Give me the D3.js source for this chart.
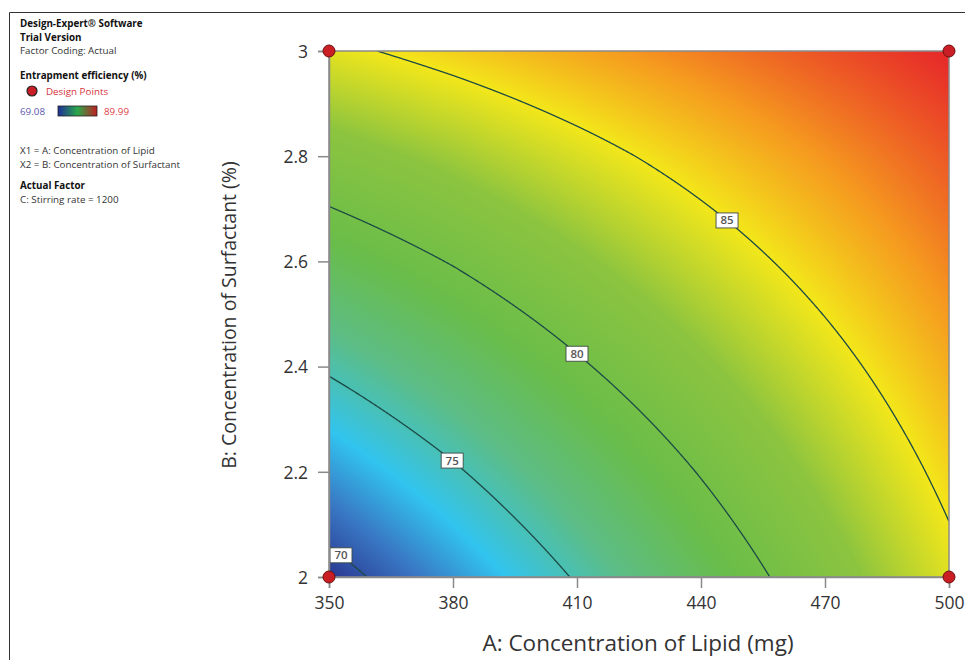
<!DOCTYPE html>
<html>
<head>
<meta charset="utf-8">
<script src="https://cdn.jsdelivr.net/npm/d3@7"></script>
<style>
  html, body { margin: 0; padding: 0; background: #fff; }
  svg { display: block; }
</style>
</head>
<body>
<svg id="chart" width="965" height="660"></svg>
<script>
// ---------------- DATA ----------------
const lipidTicks = [350, 380, 410, 440, 470, 500];          // A (mg)
const surfactantTicks = [2, 2.2, 2.4, 2.6, 2.8, 3];         // B (%)
// Entrapment efficiency (%) read at grid A x B (rows: B = 2 .. 3, cols: A = 350 .. 500)
const efficiencyGrid = [
  [69.08, 72.08, 75.18, 78.28, 81.38, 84.43],
  [72.18, 74.73, 77.42, 80.12, 82.82, 85.51],
  [75.28, 77.42, 79.72, 82.01, 84.30, 86.60],
  [78.38, 80.12, 82.01, 83.90, 85.79, 87.68],
  [81.48, 82.82, 84.30, 85.79, 87.28, 88.77],
  [84.58, 85.66, 86.75, 87.83, 88.92, 89.99]
];
const contourLevels = [70, 75, 80, 85];
const contourLabelLipid = [352.9, 379.8, 410, 446.3];
const designLipid = [350, 500, 350, 500];
const designSurfactant = [2, 2, 3, 3];
const effMin = 69.08, effMax = 89.99;

// ---------------- LAYOUT ----------------
const svg = d3.select("#chart");
const x0 = 329, x1 = 949, y0 = 51, y1 = 577;
const x = d3.scaleLinear().domain([350, 500]).range([x0, x1]);
const y = d3.scaleLinear().domain([2, 3]).range([y1, y0]);

const color = d3.scaleLinear()
  .domain([69.08, 71.3, 73.4, 76.3, 79.0, 82.3, 85, 87.2, 89.99])
  .range(["#2a3791", "#3978c4", "#31c4ef", "#5cbd86", "#69bd4a", "#8cc43f", "#f3e71a", "#f5981f", "#e6262a"])
  .interpolate(d3.interpolateRgb)
  .clamp(true);

// bilinear reading of the grid
function eff(a, b) {
  const fi = (a - lipidTicks[0]) / (lipidTicks[1] - lipidTicks[0]);
  const fj = (b - surfactantTicks[0]) / (surfactantTicks[1] - surfactantTicks[0]);
  const n = lipidTicks.length - 1, m = surfactantTicks.length - 1;
  const i = Math.max(0, Math.min(n - 1, Math.floor(fi)));
  const j = Math.max(0, Math.min(m - 1, Math.floor(fj)));
  const u = fi - i, v = fj - j;
  const g = efficiencyGrid;
  return g[j][i] * (1 - u) * (1 - v) + g[j][i + 1] * u * (1 - v) +
         g[j + 1][i] * (1 - u) * v + g[j + 1][i + 1] * u * v;
}

// ---------------- FRAME ----------------
svg.append("path").attr("d", "M9.5,660 L9.5,12.5 L965,12.5")
  .attr("fill", "none").attr("stroke", "#333").attr("stroke-width", 1);

// ---------------- RASTER ----------------
const W = x1 - x0, H = y1 - y0;
const canvas = document.createElement("canvas");
canvas.width = W; canvas.height = H;
const ctx = canvas.getContext("2d");
const img = ctx.createImageData(W, H);
for (let py = 0; py < H; py++) {
  const b = y.invert(y0 + py + 0.5);
  for (let px = 0; px < W; px++) {
    const a = x.invert(x0 + px + 0.5);
    const c = d3.rgb(color(eff(a, b)));
    const k = (py * W + px) * 4;
    img.data[k] = c.r; img.data[k + 1] = c.g; img.data[k + 2] = c.b; img.data[k + 3] = 255;
  }
}
ctx.putImageData(img, 0, 0);
svg.append("image").attr("x", x0).attr("y", y0).attr("width", W).attr("height", H)
  .attr("preserveAspectRatio", "none")
  .attr("href", canvas.toDataURL());

svg.append("clipPath").attr("id", "plotclip").append("rect")
  .attr("x", x0).attr("y", y0).attr("width", W).attr("height", H);

// ---------------- CONTOURS ----------------
function solveB(a, level) {
  let lo = 2, hi = 3;
  const flo = eff(a, lo), fhi = eff(a, hi);
  if (level < flo || level > fhi) return null;
  for (let k = 0; k < 40; k++) {
    const mid = (lo + hi) / 2;
    if (eff(a, mid) < level) lo = mid; else hi = mid;
  }
  return (lo + hi) / 2;
}
const line = d3.line().x(d => x(d[0])).y(d => y(d[1]));
const gC = svg.append("g").attr("clip-path", "url(#plotclip)");
contourLevels.forEach(level => {
  const pts = [];
  for (let a = 350; a <= 500.0001; a += 0.1) {
    const b = solveB(a, level);
    if (b !== null) pts.push([a, b]);
  }
  if (pts.length) {
    gC.append("path").attr("d", line(pts)).attr("fill", "none")
      .attr("stroke", "#1d4a45").attr("stroke-width", 1.3);
  }
});

// labels
const gL = svg.append("g");
contourLevels.forEach((level, i) => {
  const a = contourLabelLipid[i];
  const b = solveB(a, level);
  if (b === null) return;
  const cx = x(a), cy = y(b);
  const w = 22, h = 15;
  gL.append("rect").attr("x", cx - w / 2).attr("y", cy - h / 2).attr("width", w).attr("height", h)
    .attr("fill", "#fff").attr("stroke", "#3d4a45").attr("stroke-width", 0.9);
  gL.append("text").attr("x", cx).attr("y", cy + 4).attr("text-anchor", "middle")
    .attr("font-family", "Open Sans, sans-serif").attr("font-size", 11.5).attr("font-weight", 600)
    .attr("fill", "#555").text(level);
});

// ---------------- AXES ----------------
const xAxis = d3.axisBottom(x).tickValues(lipidTicks).tickSize(11).tickPadding(9).tickFormat(d3.format("d"));
const yAxis = d3.axisLeft(y).tickValues(surfactantTicks).tickSize(11).tickPadding(10).tickFormat(d => d3.format("")(d));
const gx = svg.append("g").attr("transform", `translate(0,${y1})`).call(xAxis);
const gy = svg.append("g").attr("transform", `translate(${x0},0)`).call(yAxis);
[gx, gy].forEach(g => {
  g.select(".domain").attr("stroke", "#8a8a8a").attr("stroke-width", 1.5);
  g.selectAll(".tick line").attr("stroke", "#8a8a8a").attr("stroke-width", 1.5);
  g.selectAll(".tick text").attr("font-family", "Open Sans, sans-serif").attr("font-size", 17.5).attr("fill", "#333");
});
gy.selectAll(".tick text").attr("dy", "0.36em");
svg.append("rect").attr("x", x0).attr("y", y0).attr("width", W).attr("height", H)
  .attr("fill", "none").attr("stroke", "#8a8a8a").attr("stroke-width", 1.5);

svg.append("text").attr("x", (x0 + x1) / 2 - 1).attr("y", 651).attr("text-anchor", "middle")
  .attr("font-family", "Open Sans, sans-serif").attr("font-size", 22.5).attr("fill", "#333")
  .text("A: Concentration of Lipid (mg)");
svg.append("text").attr("transform", `translate(236,${(y0 + y1) / 2 + 1}) rotate(-90)`)
  .attr("text-anchor", "middle")
  .attr("font-family", "Open Sans, sans-serif").attr("font-size", 19.5).attr("fill", "#333")
  .text("B: Concentration of Surfactant (%)");

// design points
svg.append("g").selectAll("circle").data(designLipid.map((a, i) => [a, designSurfactant[i]]))
  .join("circle").attr("cx", d => x(d[0])).attr("cy", d => y(d[1])).attr("r", 6)
  .attr("fill", "#c81e24").attr("stroke", "#6a1010").attr("stroke-width", 1);

// ---------------- LEGEND TEXT ----------------
const lg = svg.append("g").attr("font-family", "Open Sans, sans-serif").attr("font-size", 9.8);
const lx = 20;
lg.append("text").attr("x", lx).attr("y", 27).attr("font-weight", 700).attr("fill", "#111").text("Design-Expert® Software");
lg.append("text").attr("x", lx).attr("y", 40.5).attr("font-weight", 700).attr("fill", "#111").text("Trial Version");
lg.append("text").attr("x", lx).attr("y", 54).attr("fill", "#333").text("Factor Coding: Actual");
lg.append("text").attr("x", lx).attr("y", 79).attr("font-weight", 700).attr("fill", "#111").text("Entrapment efficiency (%)");
lg.append("circle").attr("cx", 32).attr("cy", 91).attr("r", 5).attr("fill", "#c81e24").attr("stroke", "#222").attr("stroke-width", 1.2);
lg.append("text").attr("x", 46).attr("y", 95).attr("fill", "#d6323a").text("Design Points");
lg.append("text").attr("x", lx).attr("y", 115).attr("fill", "#5a58b0").text(d3.format(".2f")(effMin));
lg.append("text").attr("x", 104).attr("y", 115).attr("fill", "#e0404a").text(d3.format(".2f")(effMax));
const grad = svg.append("defs").append("linearGradient").attr("id", "cbar");
[["0%", "#1f2f9a"], ["50%", "#2aa84a"], ["100%", "#c01e22"]].forEach(s =>
  grad.append("stop").attr("offset", s[0]).attr("stop-color", s[1]));
lg.append("rect").attr("x", 58).attr("y", 106).attr("width", 39).attr("height", 10)
  .attr("fill", "url(#cbar)").attr("stroke", "#222").attr("stroke-width", 0.8);
lg.append("text").attr("x", lx).attr("y", 154).attr("fill", "#333").text("X1 = A: Concentration of Lipid");
lg.append("text").attr("x", lx).attr("y", 167.5).attr("fill", "#333").text("X2 = B: Concentration of Surfactant");
lg.append("text").attr("x", lx).attr("y", 189).attr("font-weight", 700).attr("fill", "#111").text("Actual Factor");
lg.append("text").attr("x", lx).attr("y", 202.5).attr("fill", "#333").text("C: Stirring rate = 1200");
</script>
</body>
</html>
